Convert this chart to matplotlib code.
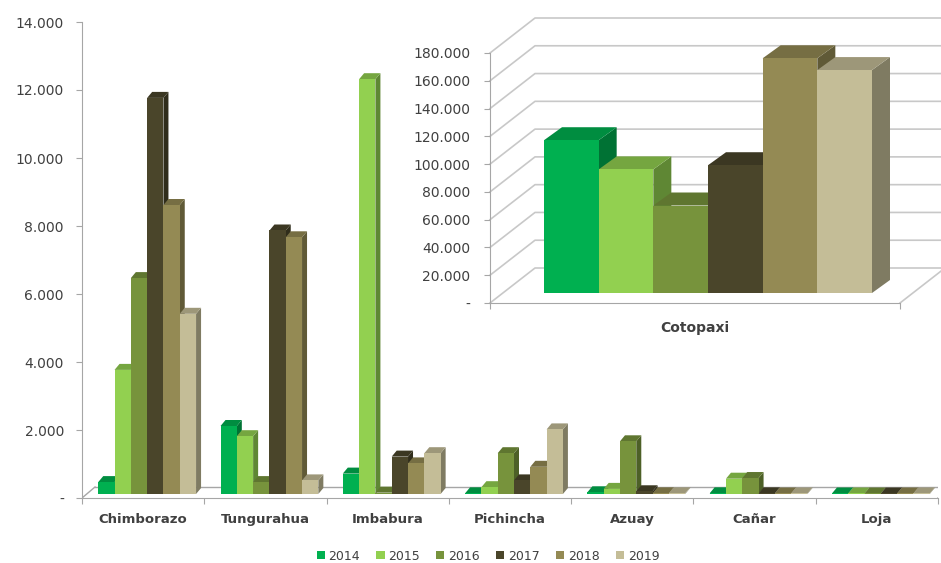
import numpy as np
import matplotlib.pyplot as plt
from matplotlib.patches import Patch
from matplotlib.ticker import FuncFormatter, FixedLocator

provincias = ['Chimborazo', 'Tungurahua', 'Imbabura', 'Pichincha', 'Azuay', 'Cañar', 'Loja']
anios = ['2014', '2015', '2016', '2017', '2018', '2019']
v2014 = [350, 2000, 600, 20, 50, 20, 15]
v2015 = [3650, 1700, 12200, 200, 150, 450, 15]
v2016 = [6350, 350, 40, 1200, 1550, 470, 15]
v2017 = [11650, 7750, 1100, 400, 80, 20, 15]
v2018 = [8500, 7550, 900, 800, 20, 15, 15]
v2019 = [5300, 400, 1200, 1900, 20, 15, 15]
series = [v2014, v2015, v2016, v2017, v2018, v2019]

cotopaxi = [110000, 89000, 63000, 92000, 169000, 160500]

colores = ['#00B050', '#92D050', '#77933C', '#4A452A', '#948A54', '#C4BD97']
gris = '#A6A6A6'
texto = '#404040'


def oscuro(c, f=0.72):
    r, g, b = plt.matplotlib.colors.to_rgb(c)
    return (r * f, g * f, b * f)


def miles(v, pos=None):
    if v == 0:
        return '-'
    return f'{int(v):,}'.replace(',', '.')


def px(ax, fig):
    # data units per pixel for x and y
    W, H = fig.get_size_inches() * fig.dpi
    p = ax.get_position()
    x0, x1 = ax.get_xlim()
    y0, y1 = ax.get_ylim()
    return (x1 - x0) / (p.width * W), (y1 - y0) / (p.height * H)


def barra3d(ax, x, w, h, color, base, prof, z):
    bx, by = base
    dx, dy = prof
    xl, xr = x + bx, x + bx + w
    yb, yt = by, by + h
    ax.fill([xr, xr + dx, xr + dx, xr], [yb, yb + dy, yt + dy, yt],
            color=oscuro(color, 0.65), lw=0, zorder=z, clip_on=False)
    ax.fill([xl, xr, xr + dx, xl + dx], [yt, yt, yt + dy, yt + dy],
            color=oscuro(color, 0.8), lw=0, zorder=z, clip_on=False)
    ax.fill([xl, xr, xr, xl], [yb, yb, yt, yt], color=color, lw=0, zorder=z, clip_on=False)


fig = plt.figure(figsize=(9.41, 5.63), dpi=100)

# ---- grafico principal ----
ax = fig.add_axes([82 / 941, 65 / 563, 856 / 941, 476 / 563])
n = len(provincias)
ax.set_xlim(0, n)
ax.set_ylim(0, 14000)
ux, uy = px(ax, fig)

fdx, fdy = 13 * ux, 11 * uy
ax.plot([fdx, n + fdx], [fdy, fdy], color=gris, lw=1, zorder=1)
ax.plot([0, fdx], [0, fdy], color=gris, lw=1, zorder=1)
ax.plot([n, n + fdx], [0, fdy], color=gris, lw=1, zorder=1)

ancho = 0.8 / len(anios)
for i in range(n):
    for j, s in enumerate(series):
        x = i + 0.1 + j * ancho
        barra3d(ax, x, ancho, s[i], colores[j], (4 * ux, 4 * uy), (5 * ux, 6 * uy), 2 + j)

ax.spines[['top', 'right']].set_visible(False)
ax.spines[['left', 'bottom']].set_color(gris)
ax.set_yticks(np.arange(0, 14001, 2000))
ax.yaxis.set_major_formatter(FuncFormatter(miles))
ax.tick_params(axis='y', colors=gris, labelcolor=texto, length=4, pad=9, labelsize=10)
ax.xaxis.set_major_locator(FixedLocator(np.arange(0, n + 1)))
ax.xaxis.set_minor_locator(FixedLocator(np.arange(n) + 0.5))
ax.set_xticklabels([], minor=False)
ax.set_xticklabels(provincias, minor=True, fontweight='bold', fontsize=9.5, color=texto)
ax.tick_params(axis='x', which='major', colors=gris, length=4)
ax.tick_params(axis='x', which='minor', length=0, pad=11)

# ---- recuadro Cotopaxi ----
ai = fig.add_axes([490 / 941, 260 / 563, 410 / 941, 250 / 563])
ai.set_facecolor('none')
ai.set_xlim(0, 1)
ai.set_ylim(0, 180000)
vx, vy = px(ai, fig)
gdx, gdy = 45 * vx, 35 * vy
niveles = np.arange(0, 180001, 20000)
for v in niveles:
    ai.plot([0, gdx, 1 + gdx], [v, v + gdy, v + gdy], color='#C8C8C8', lw=1.2,
            zorder=1, clip_on=False)
ai.plot([1, 1 + gdx], [0, gdy], color='#C8C8C8', lw=1.2, zorder=1, clip_on=False)

ancho_i = 0.8 / len(cotopaxi)
for j, v in enumerate(cotopaxi):
    barra3d(ai, 0.1 + j * ancho_i, ancho_i, v, colores[j], (13 * vx, 10 * vy),
            (18 * vx, 13 * vy), 2 + j)

ai.spines[['top', 'right']].set_visible(False)
ai.spines[['left', 'bottom']].set_color(gris)
ai.set_yticks(niveles)
ai.yaxis.set_major_formatter(FuncFormatter(miles))
ai.tick_params(axis='y', colors=gris, labelcolor=texto, length=4, pad=10, labelsize=10)
ai.set_xticks([0, 1])
ai.set_xticklabels(['', ''])
ai.tick_params(axis='x', colors=gris, length=4)
ai.text(0.5, -25 / 250 * 180000, 'Cotopaxi', ha='center', va='center',
        fontweight='bold', fontsize=10, color=texto)

# ---- leyenda ----
manijas = [Patch(facecolor=c, edgecolor='none', label=a) for c, a in zip(colores, anios)]
fig.legend(handles=manijas, loc='center', bbox_to_anchor=(488 / 941, 1 - 556 / 563),
           ncol=6, frameon=False, fontsize=9, handlelength=0.65, handleheight=0.65,
           handletextpad=0.3, columnspacing=1.3, labelcolor=texto)

fig.savefig('out.png', dpi=100)
